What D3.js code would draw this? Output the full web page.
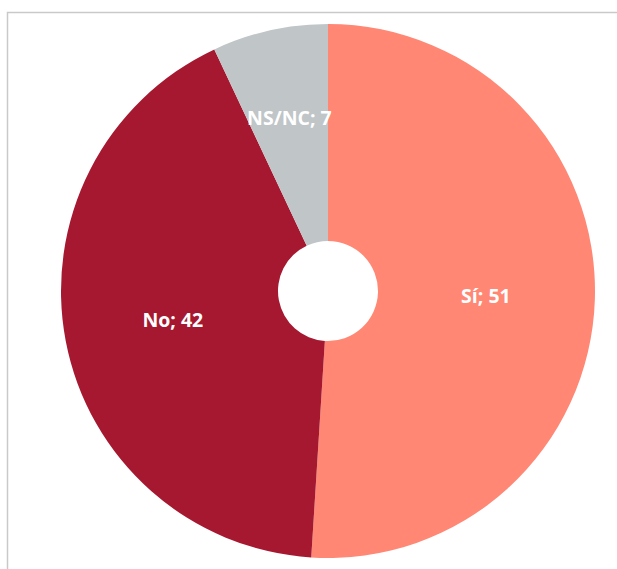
<!DOCTYPE html>
<html>
<head>
<meta charset="utf-8">
<script src="https://cdn.jsdelivr.net/npm/d3@7"></script>
<style>
  body { margin: 0; background: #fff; }
  svg { display: block; }
</style>
</head>
<body>
<svg class="donut"></svg>
<script>
const categories = ["Sí", "No", "NS/NC"];
const values = [51, 42, 7];
const colors = ["#FF8774", "#A51830", "#C0C5C8"];

const width = 617, height = 569;
const cx = 328, cy = 291;
const outerR = 267, innerR = 50;

const svg = d3.select(".donut")
    .attr("width", width)
    .attr("height", height);

// chart frame (continues past the window on right and bottom)
svg.append("rect")
    .attr("x", 7.5)
    .attr("y", 12.5)
    .attr("width", 640)
    .attr("height", 600)
    .attr("fill", "none")
    .attr("stroke", "#c9c9c9")
    .attr("stroke-width", 1.5);

const g = svg.append("g")
    .attr("transform", `translate(${cx},${cy})`);

const data = categories.map((c, i) => ({name: c, value: values[i], color: colors[i]}));

const pie = d3.pie()
    .sort(null)
    .value(d => d.value);

const arc = d3.arc()
    .innerRadius(innerR)
    .outerRadius(outerR);

const arcs = pie(data);

g.selectAll("path")
    .data(arcs)
    .enter()
    .append("path")
    .attr("d", arc)
    .attr("fill", d => d.data.color);

// labels sit halfway through the ring; the small slice is pushed out a bit
const labelArc = d3.arc().innerRadius(158).outerRadius(158);
const labelArcSmall = d3.arc().innerRadius(177).outerRadius(177);

g.selectAll("text")
    .data(arcs)
    .enter()
    .append("text")
    .attr("transform", d => {
        const c = (d.data.value < 10 ? labelArcSmall : labelArc).centroid(d);
        return `translate(${c[0]},${c[1]})`;
    })
    .attr("text-anchor", "middle")
    .attr("dy", "0.35em")
    .style("font-family", "'Open Sans', sans-serif")
    .style("font-weight", "700")
    .style("font-size", "19.5px")
    .style("fill", "#fff")
    .text(d => `${d.data.name}; ${d.data.value}`);
</script>
</body>
</html>
